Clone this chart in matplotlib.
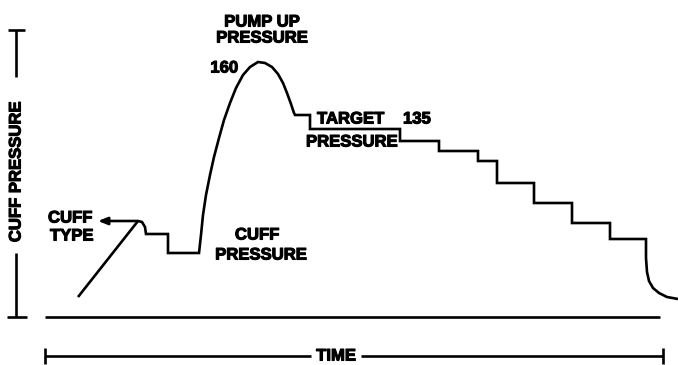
import matplotlib.pyplot as plt
import matplotlib.patheffects as pe
import numpy as np

# cuff pressure trace, time and pressure in drawing units (pressure 0 = base line)
ramp_t = [33, 93]
ramp_p = [20, 96]

inflate_t = [93, 97, 100, 101, 123, 123, 154, 156, 158, 161, 165, 169, 174, 179,
             185, 191, 198, 205, 213, 220, 227, 233, 238, 242, 246, 249, 250]
inflate_p = [96, 95, 90, 83, 83, 64, 64, 82, 102, 122, 142, 160, 179, 197,
             214, 229, 242, 250, 255, 254, 250, 243, 234, 224, 213, 204, 202]

# deflation steps: each level holds from step_t[i] to step_t[i + 1]
step_t = [250, 265, 355, 394, 433, 452, 489, 527, 565, 601]
step_p = [202, 188, 176, 166, 156, 134, 114, 94, 78]

tail_t = [601, 602, 604, 608, 614, 622, 633]
tail_p = [59, 45, 36, 29, 24, 20, 18]

plt.rcParams['font.family'] = ['Liberation Sans', 'DejaVu Sans']
plt.rcParams['font.weight'] = 'bold'
fs = 12
heavy = [pe.withStroke(linewidth=0.8, foreground='black')]

fig = plt.figure(figsize=(6.78, 3.65), dpi=100)
ax = fig.add_axes([0, 0, 1, 1])
ax.set_xlim(-45, 633)
ax.set_ylim(-48, 317)
ax.axis('off')

lw = 1.9
style = dict(color='black', lw=lw, solid_joinstyle='miter', solid_capstyle='butt')

# join the inflation curve, the steps and the final bleed-off into one trace
st, sp = [], []
for i, level in enumerate(step_p):
    st += [step_t[i], step_t[i + 1]]
    sp += [level, level]
trace_t = np.concatenate([inflate_t, st, tail_t])
trace_p = np.concatenate([inflate_p, sp, tail_p])

ax.plot(ramp_t, ramp_p, **style)
ax.plot(trace_t, trace_p, **style)

# base line
ax.plot([0, 615], [0, 0], **style)


def label(x, y, s, **kw):
    kw.setdefault('ha', 'center')
    ax.text(x, y, s, va='center', fontsize=fs, path_effects=heavy, **kw)


# cuff pressure bracket on the left
ax.plot([-29, -29], [287, 240], **style)
ax.plot([-37, -20], [287, 287], **style)
ax.plot([-29, -29], [64, 0], **style)
ax.plot([-38, -18], [0, 0], **style)
label(-29, 145, 'CUFF PRESSURE', rotation=90)

# time bracket underneath
ax.plot([0, 266], [-39, -39], **style)
ax.plot([316, 618], [-39, -39], **style)
ax.plot([0, 0], [-31, -47], **style)
ax.plot([618, 618], [-31, -47], **style)
label(291, -39, 'TIME')

# labels on the trace
label(217, 295, 'PUMP UP')
label(217, 279, 'PRESSURE')
label(193, 249, '160', ha='right')
label(272, 198, 'TARGET', ha='left')
label(358, 198, '135', ha='left')
label(261, 175, 'PRESSURE', ha='left')
label(3, 99, 'CUFF', ha='left')
label(5, 81, 'TYPE', ha='left')
label(212, 82, 'CUFF')
label(216, 62, 'PRESSURE')

ax.annotate('', xy=(53, 96), xytext=(93, 96),
            arrowprops=dict(arrowstyle='-|>,head_length=0.55,head_width=0.22',
                            color='black', lw=lw, shrinkA=0, shrinkB=0))

fig.savefig('out.png', dpi=100, facecolor='white')
